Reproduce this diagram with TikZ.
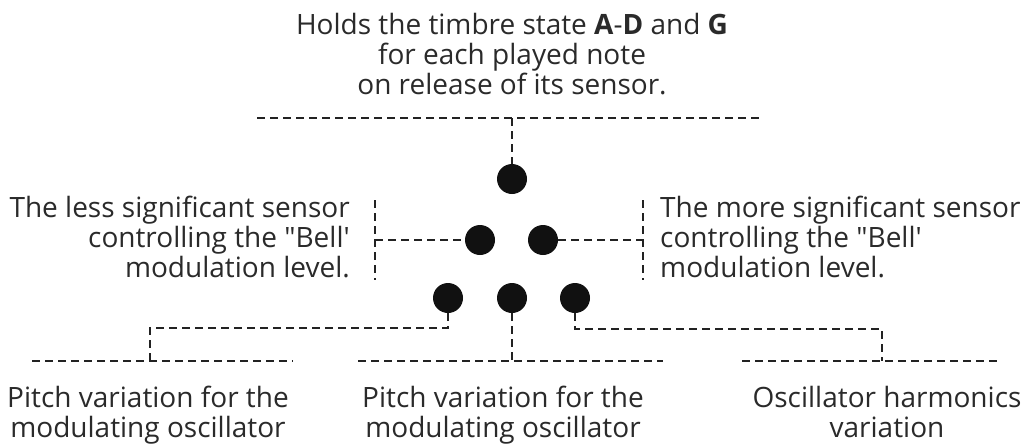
\documentclass[tikz,border=0pt]{standalone}
\usepackage{fontspec}
\setmainfont{Open Sans}
\newcommand\sq{\XeTeXglyph\XeTeXcharglyph"0027\relax}
\newcommand\dq{\XeTeXglyph\XeTeXcharglyph"0022\relax}
\definecolor{dotc}{HTML}{111111}
\definecolor{txt}{HTML}{2A2A2A}
\definecolor{linec}{HTML}{222222}
\begin{document}
\begin{tikzpicture}[x=1pt,y=-1pt,
  dot/.style={circle,fill=dotc,inner sep=0pt,minimum size=30pt},
  lbl/.style={font=\fontsize{28}{30}\selectfont,text=txt,inner sep=0pt},
  conn/.style={draw=linec,line width=1.2pt,dash pattern=on 8pt off 5pt}]
\useasboundingbox (0,0) rectangle (1035,447);
% dots
\node[dot] (t)  at (512,179) {};
\node[dot] (ml) at (480,240) {};
\node[dot] (mr) at (543,240) {};
\node[dot] (bl) at (448,298) {};
\node[dot] (bm) at (512,298) {};
\node[dot] (br) at (575,298) {};
% labels
\node[lbl,align=center,anchor=north] (toptext) at (512,13)
  {Holds the timbre state \textbf{A}-\textbf{D} and \textbf{G}\\for each played note\\on release of its sensor.};
\node[lbl,align=right,anchor=north east] (ltext) at (350,196)
  {The less significant sensor\\controlling the \dq Bell\sq\\modulation level.};
\node[lbl,align=left,anchor=north west] (rtext) at (660,196)
  {The more significant sensor\\controlling the \dq Bell\sq\\modulation level.};
\node[lbl,align=center,anchor=north] (b1text) at (148,386)
  {Pitch variation for the\\modulating oscillator};
\node[lbl,align=center,anchor=north] (b2text) at (503,386)
  {Pitch variation for the\\modulating oscillator};
\node[lbl,align=center,anchor=north] (b3text) at (887,386)
  {Oscillator harmonics\\variation};
% top connector
\coordinate (tl) at (257,118);
\coordinate (tr) at (763,118);
\coordinate (tj) at (512,118);
\draw[conn] (tl) -- (tr);
\draw[conn] (tj) -- (t.north);
% left bracket
\coordinate (lb1) at (375,200);
\coordinate (lb2) at (375,280);
\coordinate (lj) at (375,240);
\draw[conn] (lb1) -- (lb2);
\draw[conn] (lj) -- (ml.west);
% right bracket
\coordinate (rb1) at (643,200);
\coordinate (rb2) at (643,280);
\coordinate (rj) at (643,240);
\draw[conn] (rb1) -- (rb2);
\draw[conn] (mr.east) -- (rj);
% bottom left
\coordinate (lk) at (150,328);
\coordinate (lj2) at (150,361);
\coordinate (l1a) at (32,361);
\coordinate (l1b) at (293,361);
\draw[conn] (bl.south) |- (lk) -- (lj2);
\draw[conn] (l1a) -- (l1b);
% bottom middle
\coordinate (mj) at (512,361);
\coordinate (m1a) at (358,361);
\coordinate (m1b) at (663,361);
\draw[conn] (bm.south) -- (mj);
\draw[conn] (m1a) -- (m1b);
% bottom right
\coordinate (rk) at (882,329);
\coordinate (rj2) at (882,361);
\coordinate (r1a) at (742,361);
\coordinate (r1b) at (997,361);
\draw[conn] (br.south) |- (rk) -- (rj2);
\draw[conn] (r1a) -- (r1b);
\end{tikzpicture}
\end{document}
